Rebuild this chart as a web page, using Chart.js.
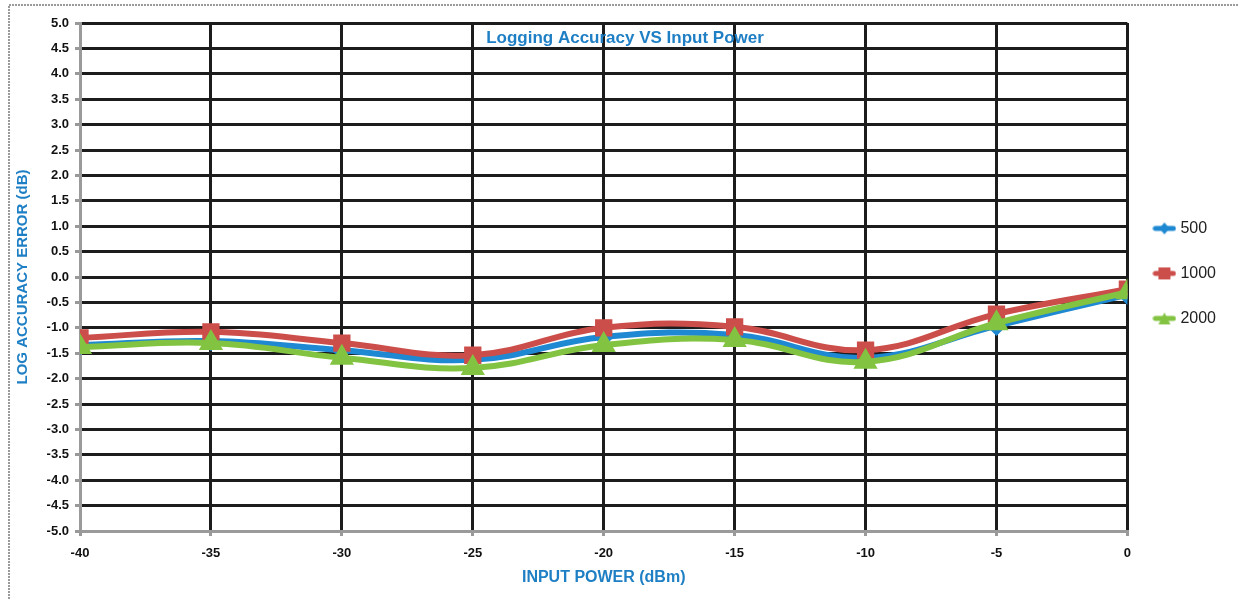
<!DOCTYPE html>
<html>
<head>
<meta charset="utf-8">
<script src="https://cdn.jsdelivr.net/npm/chart.js@4"></script>
<style>
  html, body { margin: 0; padding: 0; background: #fff; }
  #wrap { width: 1238px; height: 599px; }
</style>
</head>
<body>
<div id="wrap"><canvas id="chart"></canvas></div>
<script>
const inputPower = [-40, -35, -30, -25, -20, -15, -10, -5, 0];
const err500 = [-1.34, -1.26, -1.44, -1.63, -1.18, -1.14, -1.59, -0.96, -0.35];
const err1000 = [-1.20, -1.08, -1.30, -1.54, -1.00, -0.98, -1.44, -0.73, -0.24];
const err2000 = [-1.38, -1.30, -1.59, -1.79, -1.34, -1.24, -1.67, -0.91, -0.30];
const seriesNames = ["500", "1000", "2000"];

const titleText = "Logging Accuracy VS Input Power";
const blueText = "#1f7fc4";
const font = "'Liberation Sans', sans-serif";

const toPoints = (ys) => ys.map((y, i) => ({ x: inputPower[i], y: y }));

// little "line + marker" swatch for the legend, like the spreadsheet one
const swatch = (color, style) => {
  const c = document.createElement("canvas");
  c.width = 24;
  c.height = 14;
  const g = c.getContext("2d");
  g.fillStyle = color;
  g.strokeStyle = color;
  g.lineWidth = 5;
  g.lineCap = "round";
  g.beginPath();
  g.moveTo(3, 7);
  g.lineTo(21, 7);
  g.stroke();
  g.beginPath();
  if (style === "rectRot") {
    g.moveTo(12, 1); g.lineTo(17, 7); g.lineTo(12, 13); g.lineTo(7, 7);
  } else if (style === "rect") {
    g.rect(6, 1, 12, 12);
  } else {
    g.moveTo(12, 1); g.lineTo(18, 13); g.lineTo(6, 13);
  }
  g.closePath();
  g.fill();
  return c;
};

// title sits inside the plot, plus the dotted outer frame
const overlay = {
  id: "overlay",
  beforeDraw(chart) {
    const ctx = chart.ctx;
    ctx.save();
    ctx.strokeStyle = "#9a9a9a";
    ctx.lineWidth = 2;
    ctx.setLineDash([2, 1]);
    ctx.beginPath();
    ctx.moveTo(9, 599);
    ctx.lineTo(9, 5);
    ctx.lineTo(1238, 5);
    ctx.stroke();
    ctx.restore();
  },
  afterDraw(chart) {
    const ctx = chart.ctx;
    ctx.save();
    ctx.font = "bold 17px " + font;
    ctx.fillStyle = blueText;
    ctx.textAlign = "center";
    ctx.textBaseline = "middle";
    ctx.fillText(titleText, 625, 38);
    ctx.restore();
  },
};

const mkSet = (label, data, color, style, size, order) => ({
  label: label,
  data: toPoints(data),
  borderColor: color,
  backgroundColor: color,
  borderWidth: 6,
  tension: 0.4,
  pointStyle: style,
  pointRadius: size,
  pointBorderColor: color,
  pointBackgroundColor: color,
  legendSwatch: swatch(color, style),
  order: order,
});

new Chart(document.getElementById("chart"), {
  type: "line",
  data: {
    datasets: [
      mkSet(seriesNames[0], err500, "#1e88d2", "rectRot", 6, 3),
      mkSet(seriesNames[1], err1000, "#cc4e4a", "rect", 8, 2),
      mkSet(seriesNames[2], err2000, "#82c341", "triangle", 8, 1),
    ],
  },
  options: {
    responsive: true,
    maintainAspectRatio: false,
    animation: false,
    layout: { padding: { top: 23, left: 10, right: 12, bottom: 8 } },
    plugins: {
      title: { display: false },
      tooltip: { enabled: false },
      legend: {
        position: "right",
        align: "start",
        title: { display: true, text: " ", padding: { top: 154, bottom: 0 } },
        labels: {
          usePointStyle: true,
          padding: 29,
          color: "#222",
          font: { family: font, size: 16 },
          generateLabels: (chart) =>
            chart.data.datasets.map((ds, i) => ({
              text: ds.label,
              datasetIndex: i,
              pointStyle: ds.legendSwatch,
              fillStyle: ds.borderColor,
              strokeStyle: ds.borderColor,
              lineWidth: 0,
              fontColor: "#222",
              hidden: false,
            })),
        },
      },
    },
    scales: {
      x: {
        type: "linear",
        min: -40,
        max: 0,
        ticks: {
          stepSize: 5,
          color: "#111",
          padding: 10,
          font: { family: font, size: 13, weight: "bold" },
        },
        grid: { color: "#1c1c1c", lineWidth: 3, tickLength: 5, tickColor: "#999" },
        border: { color: "#9a9a9a", width: 3 },
        title: {
          display: true,
          text: "INPUT POWER (dBm)",
          color: blueText,
          padding: { top: 10 },
          font: { family: font, size: 16, weight: "bold" },
        },
        afterFit: (s) => { s.height = 60; },
      },
      y: {
        min: -5,
        max: 5,
        ticks: {
          stepSize: 0.5,
          color: "#111",
          padding: 6,
          callback: (v) => v.toFixed(1),
          font: { family: font, size: 13, weight: "bold" },
        },
        grid: { color: "#1c1c1c", lineWidth: 3, tickLength: 5, tickColor: "#999" },
        border: { color: "#9a9a9a", width: 3 },
        title: {
          display: true,
          text: "LOG ACCURACY ERROR (dB)",
          color: blueText,
          font: { family: font, size: 15, weight: "bold" },
        },
        afterFit: (s) => { s.width = 70; },
      },
    },
  },
  plugins: [overlay],
});
</script>
</body>
</html>
